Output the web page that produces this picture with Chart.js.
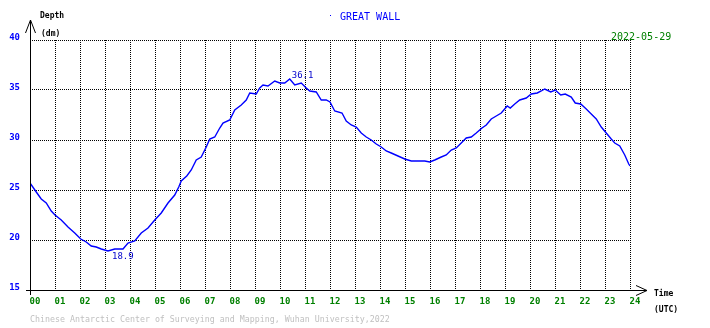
<!DOCTYPE html>
<html><head><meta charset="utf-8">
<script src="https://cdn.jsdelivr.net/npm/chart.js@4.4.1/dist/chart.umd.min.js"></script>
<style>html,body{margin:0;padding:0;background:#fff;overflow:hidden}#wrap{width:710px;height:328px;position:relative}</style>
</head><body><div id="wrap"><canvas id="c" width="710" height="328"></canvas></div>
<script>
const hours=[0.00,0.25,0.45,0.65,0.85,1.00,1.25,1.52,1.79,2.03,2.25,2.45,2.65,2.85,3.12,3.39,3.72,3.92,4.19,4.45,4.72,4.99,5.25,5.52,5.79,5.95,6.05,6.27,6.45,6.65,6.85,7.05,7.19,7.39,7.59,7.72,7.99,8.19,8.45,8.65,8.79,9.05,9.19,9.32,9.52,9.79,9.99,10.19,10.39,10.59,10.85,11.05,11.19,11.45,11.65,11.85,12.00,12.19,12.48,12.65,12.85,13.05,13.25,13.45,13.65,13.85,14.05,14.25,14.45,14.72,14.99,15.25,15.52,15.79,15.99,16.19,16.45,16.65,16.85,17.05,17.25,17.45,17.65,17.85,18.08,18.25,18.45,18.65,18.85,19.09,19.21,19.39,19.59,19.85,20.05,20.29,20.45,20.59,20.83,21.01,21.23,21.41,21.65,21.81,22.03,22.25,22.45,22.65,22.85,23.05,23.25,23.39,23.59,23.79,23.95,24.00];
const depths=[25.7,24.8,24.1,23.7,22.9,22.5,22.0,21.3,20.7,20.1,19.8,19.4,19.3,19.1,18.9,19.1,19.1,19.7,19.9,20.7,21.2,22.0,22.7,23.7,24.5,25.3,25.9,26.4,27.0,28.0,28.3,29.3,30.1,30.3,31.2,31.7,32.0,33.0,33.5,34.0,34.7,34.6,35.2,35.5,35.4,35.9,35.7,35.7,36.1,35.5,35.7,35.2,34.9,34.8,34.0,34.0,33.8,32.9,32.7,31.9,31.5,31.3,30.7,30.3,30.0,29.6,29.3,28.9,28.7,28.4,28.1,27.9,27.9,27.9,27.8,28.0,28.3,28.5,29.0,29.2,29.7,30.2,30.3,30.7,31.2,31.5,32.1,32.4,32.7,33.4,33.2,33.6,34.0,34.2,34.6,34.7,34.9,35.1,34.8,35.0,34.5,34.6,34.3,33.7,33.6,33.1,32.6,32.1,31.3,30.7,30.1,29.7,29.4,28.5,27.6,27.4];
const xTickLabels=['00','01','02','03','04','05','06','07','08','09','10','11','12','13','14','15','16','17','18','19','20','21','22','23','24'];
const yTickValues=[15,20,25,30,35,40];
const stationName='GREAT WALL';
const dateLabel='2022-05-29';
const footerText='Chinese Antarctic Center of Surveying and Mapping, Wuhan University,2022';

const MONO='"DejaVu Sans Mono", "Liberation Mono", monospace';

const decor={
  id:'decor',
  afterDraw(chart){
    const {ctx,chartArea:a,scales}=chart;
    const L=a.left+0.5,B=a.bottom+0.5;
    ctx.save();
    ctx.strokeStyle='#000';ctx.lineWidth=1;
    ctx.beginPath();
    ctx.moveTo(L,a.bottom+5);ctx.lineTo(L,20);
    ctx.moveTo(L-5,33);ctx.lineTo(L,20);ctx.lineTo(L+5,33);
    ctx.moveTo(a.left-4,B);ctx.lineTo(a.right+17,B);
    ctx.moveTo(a.right+6,B-5);ctx.lineTo(a.right+17,B);ctx.lineTo(a.right+6,B+5);
    ctx.stroke();
    ctx.textBaseline='middle';
    ctx.fillStyle='#000';
    ctx.font='bold 8px '+MONO;
    ctx.textAlign='left';
    ctx.fillText('Depth',40,16);
    ctx.fillText('(dm)',41,34);
    ctx.fillText('Time',654,294);
    ctx.fillText('(UTC)',654,310);
    ctx.fillStyle='#0000ff';
    ctx.font='10px '+MONO;
    ctx.fillText(stationName,340,17);
    ctx.fillRect(330,15,1,1);
    ctx.fillStyle='#008000';
    ctx.fillText(dateLabel,611,37);
    ctx.fillStyle='#c0c0c0';
    ctx.font='8.3px '+MONO;
    ctx.fillText(footerText,30,320);
    let iMax=0,iMin=0;
    depths.forEach((v,i)=>{if(v>depths[iMax])iMax=i;if(v<depths[iMin])iMin=i;});
    const xs=scales.x,ys=scales.y;
    ctx.fillStyle='#0000cc';
    ctx.font='9px '+MONO;
    ctx.textBaseline='alphabetic';
    ctx.fillText(depths[iMax].toFixed(1),xs.getPixelForValue(hours[iMax])+2,ys.getPixelForValue(depths[iMax])-1);
    ctx.textBaseline='top';
    ctx.fillText(depths[iMin].toFixed(1),xs.getPixelForValue(hours[iMin])+4,ys.getPixelForValue(depths[iMin])+1);
    ctx.restore();
  }
};

new Chart(document.getElementById('c'),{
  type:'line',
  data:{datasets:[{
    data:hours.map((h,i)=>({x:h,y:depths[i]})),
    borderColor:'#0000ff',borderWidth:1.4,pointRadius:0,tension:0,fill:false
  }]},
  options:{
    responsive:false,animation:false,devicePixelRatio:1,
    layout:{padding:{top:40,right:80,left:0,bottom:0}},
    plugins:{legend:{display:false},tooltip:{enabled:false},title:{display:false}},
    scales:{
      x:{type:'linear',min:0,max:24,
        afterBuildTicks(s){s.ticks=xTickLabels.map((_,i)=>({value:i}));},
        afterFit(s){s.height=38;},
        ticks:{autoSkip:false,maxRotation:0,padding:6,labelOffset:5,color:'#008000',
          font:{family:MONO,size:9,weight:'bold'},callback:(v)=>xTickLabels[v]},
        grid:{color:'#000',lineWidth:1,drawTicks:false},
        border:{display:false,dash:[1,1]}
      },
      y:{type:'linear',min:15,max:40,
        afterBuildTicks(s){s.ticks=yTickValues.map(v=>({value:v}));},
        afterFit(s){s.width=30;},
        ticks:{padding:10,labelOffset:-2,color:'#0000ff',font:{family:MONO,size:9,weight:'bold'}},
        grid:{color:'#000',lineWidth:1,drawTicks:false},
        border:{display:false,dash:[1,1]}
      }
    }
  },
  plugins:[decor]
});
</script></body></html>
